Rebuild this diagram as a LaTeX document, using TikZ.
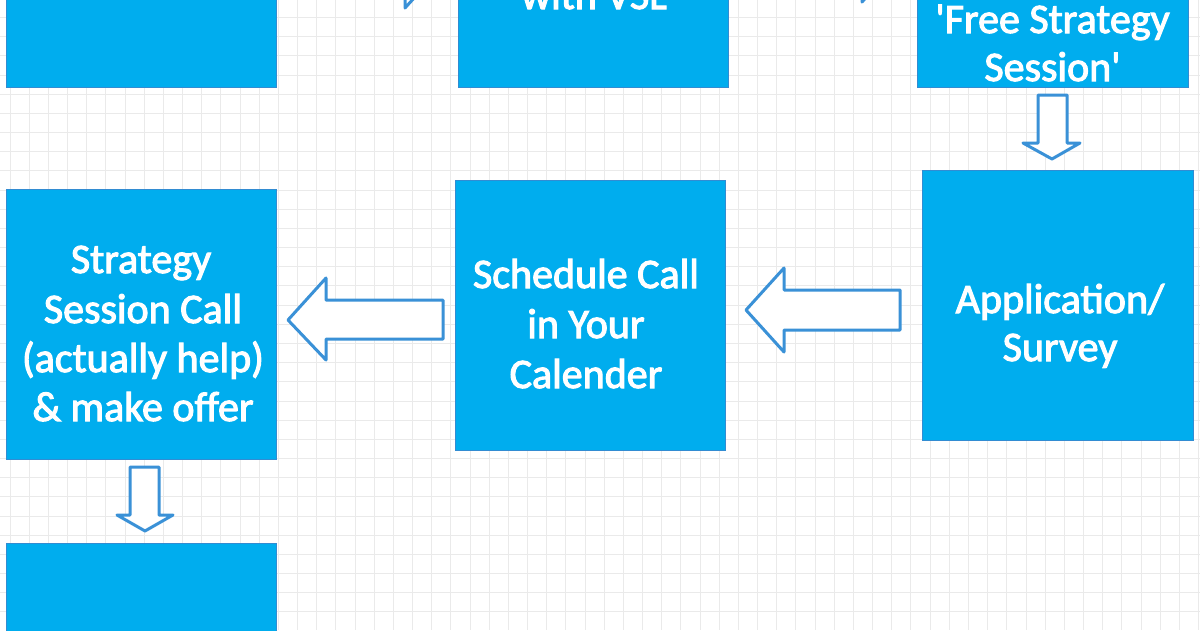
\documentclass[tikz,border=0pt]{standalone}
\usepackage{fontspec}
\newfontfamily\boxfont{Carlito}[FakeBold=2.5]
\definecolor{boxblue}{RGB}{0,173,238}
\definecolor{boxedge}{RGB}{50,140,210}
\definecolor{arrowblue}{RGB}{58,145,215}
\definecolor{gridgray}{RGB}{234,234,234}
\begin{document}
\begin{tikzpicture}[x=1pt,y=-1pt,
  box/.style={draw=boxedge,line width=1pt,fill=boxblue,minimum width=270pt,minimum height=270pt,inner sep=0pt},
  txt/.style={text=white,font=\boxfont\fontsize{42}{50}\selectfont,anchor=base,inner sep=0pt},
  blockarrow/.style={draw=arrowblue,fill=white,line width=3pt,line join=round}]
\useasboundingbox (0,0) rectangle (1200,630);
\clip (0,0) rectangle (1200,630);
\fill[white] (0,0) rectangle (1200,630);
% grid
\foreach \i in {0,...,62} {\draw[gridgray,line width=1pt] ({10+19.17*\i},0) -- ({10+19.17*\i},630);}
\foreach \j in {0,...,32} {\draw[gridgray,line width=1pt] (0,{17.6+19.17*(\j-1)}) -- (1200,{17.6+19.17*(\j-1)});}
% boxes
\node[box] (A) at (141,-48) {};
\node[box] (B) at (593,-48) {};
\node[box,minimum width=271pt] (C) at (1052.5,-48) {};
\node[box,minimum width=271pt] (D) at (1057.5,305) {};
\node[box] (E) at (590,315) {};
\node[box] (F) at (141,324) {};
\node[box] (G) at (141,678) {};
% texts
\node[txt] (b1) at (594,9) {with VSL};
\node[txt] (c1) at (1052.5,33) {'Free Strategy};
\node[txt] (c2) at (1052.5,81) {Session'};
\node[txt] (d1) at (1060,313) {Application/};
\node[txt] (d2) at (1060,361) {Survey};
\node[txt] (e1) at (586,288) {Schedule Call};
\node[txt] (e2) at (586,338) {in Your};
\node[txt] (e3) at (586,388) {Calender};
\node[txt] (f1) at (141,273) {Strategy};
\node[txt] (f2) at (143,323) {Session Call};
\node[txt] (f3) at (143,372) {(actually help)};
\node[txt] (f4) at (143,421) {\& make offer};
% block arrows
\draw[blockarrow] (288,-54) -- (405,-54) -- (405,-76) -- (443,-34) -- (405,8) -- (405,-14) -- (288,-14) -- cycle;
\draw[blockarrow] (740,-60) -- (862,-60) -- (862,-82) -- (900,-40) -- (862,2) -- (862,-20) -- (740,-20) -- cycle;
\draw[blockarrow] (1038,95) -- (1067,95) -- (1067,143) -- (1080,143) -- (1052,159) -- (1023,143) -- (1038,143) -- cycle;
\draw[blockarrow] (900,290) -- (784,290) -- (784,268) -- (746,310) -- (784,352) -- (784,330) -- (900,330) -- cycle;
\draw[blockarrow] (443,300) -- (326,300) -- (326,278) -- (288,320) -- (326,360) -- (326,339) -- (443,339) -- cycle;
\draw[blockarrow] (130,467) -- (159,467) -- (159,515) -- (173,515) -- (145,531) -- (117,515) -- (130,515) -- cycle;
\end{tikzpicture}
\end{document}
